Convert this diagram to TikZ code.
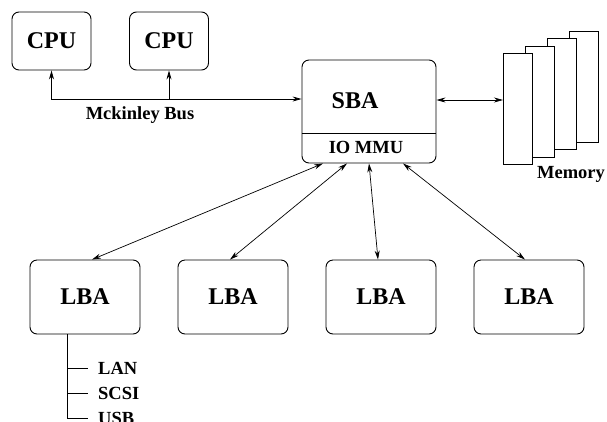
\documentclass[tikz,border=0pt]{standalone}
\usepackage{fontspec}
\setmainfont{Liberation Serif}
\usetikzlibrary{arrows.meta,positioning}

\begin{document}
\begin{tikzpicture}[
    x=1pt, y=-1pt,
    >={Stealth[length=9pt,width=5pt]},
    unit/.style={draw, line width=0.9pt, rounded corners=7pt,
        minimum width=79pt, minimum height=58pt,
        font=\fontsize{24}{28}\selectfont\bfseries},
    lba/.style={unit, minimum width=110pt, minimum height=74pt},
    memcard/.style={draw, line width=0.9pt, fill=white, anchor=north west,
        minimum width=29pt, minimum height=111pt, inner sep=0pt},
    tag/.style={font=\fontsize{18.5}{22}\selectfont\bfseries, inner sep=0pt},
    link/.style={<->, line width=0.7pt},
]
\useasboundingbox (0,0) rectangle (607,421);

\node[unit] (cpuA) at (51.5,41) {CPU};
\node[unit] (cpuB) at (169,41) {CPU};

\node[unit, minimum width=134pt, minimum height=103pt] (sba) at (369,111.5) {};
\node[font=\fontsize{24}{28}\selectfont\bfseries, inner sep=0pt] (sbaname) at (355,101) {SBA};
\node[tag, anchor=base] (iommu) at (366,153.5) {IO MMU};
\draw[line width=0.9pt] (sba.west |- 0,133) -- (sba.east |- 0,133);

% memory cards, back to front
\foreach \k in {3,2,1,0}
    \node[memcard] (mem\k) at (503+22*\k, 53-7.4*\k) {};
\node[tag, anchor=base] (memlabel) at (571,178.5) {Memory};

\foreach \i/\xc in {1/85,2/233,3/381,4/529}
    \node[lba] (lba\i) at (\xc,297) {LBA};

% Mckinley bus
\draw[link] (cpuA.south) -- (cpuA.south |- 0,99) -- (sba.west |- 0,99);
\draw[->, line width=0.7pt] (cpuB.south |- 0,99) -- (cpuB.south);
\node[tag, anchor=base] (buslabel) at (140,119.5) {Mckinley Bus};

\draw[link] (sba.east |- 0,100) -- (mem0.west |- 0,100);

\foreach \i/\s/\l in {1/-46/7,2/-22/-3,3/0/-3,4/34/-4}
    \draw[link] ([xshift=\s pt]sba.south) -- ([xshift=\l pt]lba\i.north);

% I/O bus below the first LBA
\coordinate (iobus) at ([xshift=-18pt]lba1.south);
\node[tag, anchor=base west] (iolan) at (98,374) {LAN};
\node[tag, anchor=base west] (ioscsi) at (98,399) {SCSI};
\node[tag, anchor=base west] (iousb) at (98,424) {USB};
\draw[line width=0.7pt] (iobus) |- ([xshift=-10pt]iousb.west);
\draw[line width=0.7pt] (iobus |- iolan.west) -- ([xshift=-10pt]iolan.west);
\draw[line width=0.7pt] (iobus |- ioscsi.west) -- ([xshift=-10pt]ioscsi.west);
\end{tikzpicture}
\end{document}
